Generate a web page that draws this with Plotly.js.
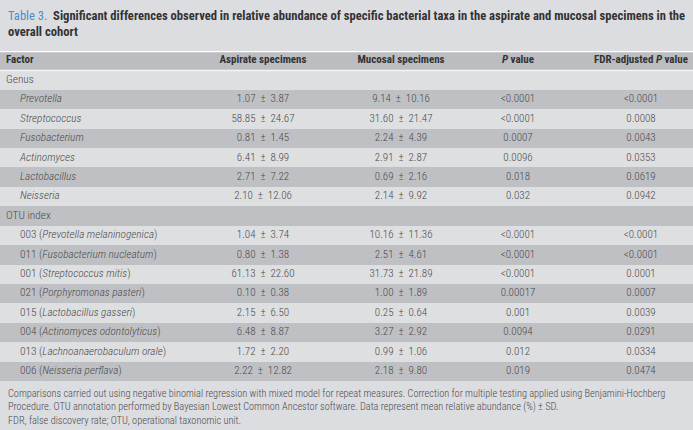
<!DOCTYPE html>
<html>
<head>
<meta charset="utf-8">
<script src="https://cdn.plot.ly/plotly-3.0.1.min.js"></script>
<style>
  body { margin: 0; background: #dcdde0; }
  #tabela { width: 693px; height: 430px; }
</style>
</head>
<body>
<div id="tabela"></div>
<script>
// ===== Dados =====
const columnHeaders = ["Factor", "Aspirate specimens", "Mucosal specimens", "<i>P</i>\u00a0value", "FDR-adjusted <i>P</i>\u00a0value"];

const genusNames = ["Prevotella", "Streptococcus", "Fusobacterium", "Actinomyces", "Lactobacillus", "Neisseria"];
const genusAspMean = [1.07, 58.85, 0.81, 6.41, 2.71, 2.10];
const genusAspSD = [3.87, 24.67, 1.45, 8.99, 7.22, 12.06];
const genusMucMean = [9.14, 31.60, 2.24, 2.91, 0.69, 2.14];
const genusMucSD = [10.16, 21.47, 4.39, 2.87, 2.16, 9.92];
const genusP = ["<0.0001", "<0.0001", "0.0007", "0.0096", "0.018", "0.032"];
const genusFDR = ["<0.0001", "0.0008", "0.0043", "0.0353", "0.0619", "0.0942"];

const otuIds = ["003", "011", "001", "021", "015", "004", "013", "006"];
const otuSpecies = ["Prevotella melaninogenica", "Fusobacterium nucleatum", "Streptococcus mitis", "Porphyromonas pasteri",
  "Lactobacillus gasseri", "Actinomyces odontolyticus", "Lachnoanaerobaculum orale", "Neisseria perflava"];
const otuAspMean = [1.04, 0.80, 61.13, 0.10, 2.15, 6.48, 1.72, 2.22];
const otuAspSD = [3.74, 1.38, 22.60, 0.38, 6.50, 8.87, 2.20, 12.82];
const otuMucMean = [10.16, 2.51, 31.73, 1.00, 0.25, 3.27, 0.99, 2.18];
const otuMucSD = [11.36, 4.61, 21.89, 1.89, 0.64, 2.92, 1.06, 9.80];
const otuP = ["<0.0001", "<0.0001", "<0.0001", "0.00017", "0.001", "0.0094", "0.012", "0.019"];
const otuFDR = ["<0.0001", "<0.0001", "0.0001", "0.0007", "0.0039", "0.0291", "0.0334", "0.0474"];

// ===== Estilo =====
const FONTE = "'Roboto Condensed', 'Liberation Sans Narrow', 'Arial Narrow', 'DejaVu Sans Condensed', sans-serif";
const LARG = 693;
const colX = [6, 263, 401, 518, 641];   // posição de cada coluna (px)
const recuo = 20;                       // recuo das linhas de táxon
const corClara = "#dedfe1";
const corEscura = "#bfc0c4";
const corCabecalho = "#bcbdc1";
const corTexto = "#4a4a4c";

// média ± DP, com espaços um pouco mais largos como no original
function ms(m, s) {
  return m.toFixed(2) + "\u2002\u00b1\u2002" + s.toFixed(2);
}
function esc(t) {
  return t.replace(/</g, "&lt;");
}

// ===== Monta as linhas =====
const linhas = [];
linhas.push({ fator: "Genus", grupo: true });
genusNames.forEach((g, i) => linhas.push({
  fator: "<i>" + g + "</i>",
  asp: ms(genusAspMean[i], genusAspSD[i]),
  muc: ms(genusMucMean[i], genusMucSD[i]),
  p: genusP[i], fdr: genusFDR[i]
}));
linhas.push({ fator: "OTU index", grupo: true });
otuIds.forEach((id, i) => linhas.push({
  fator: id + " (<i>" + otuSpecies[i] + "</i>)",
  asp: ms(otuAspMean[i], otuAspSD[i]),
  muc: ms(otuMucMean[i], otuMucSD[i]),
  p: otuP[i], fdr: otuFDR[i]
}));

const nLinhas = linhas.length + 1; // + cabeçalho
const yIdx = [0].concat(linhas.map((l, i) => i + 1));

// fundo das linhas (barras horizontais)
const fundo = {
  type: "bar", orientation: "h",
  y: yIdx, x: yIdx.map(() => LARG), base: 0, width: 1,
  marker: { color: yIdx.map(k => k === 0 ? corCabecalho : (k % 2 ? corClara : corEscura)), line: { width: 0 } },
  hoverinfo: "skip", showlegend: false
};

const linhasY = linhas.map((l, i) => i + 1);
function colunaTexto(xs, textos, pos, tam) {
  return {
    type: "scatter", mode: "text",
    x: xs, y: linhasY, text: textos, textposition: pos,
    textfont: { family: FONTE, size: tam || 11, color: corTexto, weight: 300 },
    hoverinfo: "skip", showlegend: false, cliponaxis: false
  };
}

const dados = [
  fundo,
  colunaTexto(linhas.map(l => l.grupo ? colX[0] : recuo), linhas.map(l => l.fator), "middle right", 11.3),
  colunaTexto(linhas.map(() => colX[1]), linhas.map(l => l.asp || ""), "middle center"),
  colunaTexto(linhas.map(() => colX[2]), linhas.map(l => l.muc || ""), "middle center"),
  colunaTexto(linhas.map(() => colX[3]), linhas.map(l => l.p ? esc(l.p) : ""), "middle center"),
  colunaTexto(linhas.map(() => colX[4]), linhas.map(l => l.fdr ? esc(l.fdr) : ""), "middle center"),
  {
    type: "scatter", mode: "text",
    x: colX, y: colX.map(() => 0),
    text: columnHeaders.map(h => "<b>" + h + "</b>"),
    textposition: ["middle right", "middle center", "middle center", "middle center", "middle center"],
    textfont: { family: FONTE, size: 11, color: "#333335" },
    hoverinfo: "skip", showlegend: false, cliponaxis: false
  }
];

const layout = {
  width: 693, height: 430,
  margin: { l: 0, r: 0, t: 51, b: 49, pad: 0 },
  paper_bgcolor: "#dcdde0",
  plot_bgcolor: "#dcdde0",
  bargap: 0,
  xaxis: { range: [0, LARG], visible: false, fixedrange: true },
  yaxis: { range: [nLinhas - 0.5, -0.5], visible: false, fixedrange: true },
  shapes: [
    { type: "line", xref: "paper", yref: "y", x0: 0, x1: 1, y0: -0.5, y1: -0.5, line: { color: "#ffffff", width: 2.5 } },
    { type: "line", xref: "paper", yref: "y", x0: 0, x1: 1, y0: 0.5, y1: 0.5, line: { color: "#f4f4f5", width: 1.5 } }
  ],
  annotations: [
    {
      xref: "paper", yref: "paper", x: 6 / LARG, y: (381 - 6) / 330,
      xanchor: "left", yanchor: "top", align: "left", showarrow: false,
      text: "<span style='color:#4a90c8'>Table 3.</span>\u00a0 <b>Significant differences observed in relative abundance of specific bacterial taxa in the aspirate and mucosal specimens in the</b><br><b>overall cohort</b>",
      font: { family: FONTE, size: 12.6, color: "#333335" }
    },
    {
      xref: "paper", yref: "paper", x: 6 / LARG, y: (381 - 385) / 330,
      xanchor: "left", yanchor: "top", align: "left", showarrow: false,
      text: "Comparisons carried out using negative binomial regression with mixed model for repeat measures. Correction for multiple testing applied using Benjamini-Hochberg<br>Procedure. OTU annotation performed by Bayesian Lowest Common Ancestor software. Data represent mean relative abundance (%) \u00b1 SD.<br>FDR, false discovery rate; OTU, operational taxonomic unit.",
      font: { family: FONTE, size: 10.3, color: "#4a4a4c", weight: 300 }
    }
  ]
};

Plotly.newPlot("tabela", dados, layout, { displayModeBar: false, staticPlot: true });
</script>
</body>
</html>
